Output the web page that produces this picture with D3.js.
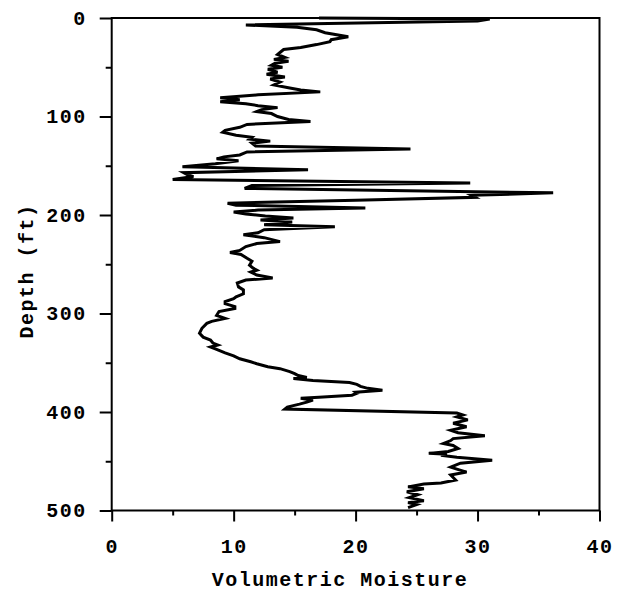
<!DOCTYPE html>
<html><head><meta charset="utf-8">
<script src="https://cdn.jsdelivr.net/npm/d3@7"></script>
<style>
html,body{margin:0;padding:0;background:#fff;}
text{font-family:"Liberation Mono","Courier New",monospace;font-weight:bold;fill:#000;}
</style></head>
<body>
<svg id="chart" width="618" height="592"></svg>
<script>
const depth = [0,1,3,7,9.5,12,15,19,22,24,27,30,32,35,37,40,42,44,46,48,50,52,55,57,60,62,65,68,71,73,75,78,81,83,85,87,89,91,93,95,97,100,103,105,108,111,114,116,119,121,123,125,127,130,133,136,139,141,143,145,148,151,154,157,159,161,164,167.5,170,173,177.5,180,182,185,188,190,193,195,197,199,201,203,205,207,210,212,215,218,220,223,227,229,232,236,238,240,244,247,251,254,256,258,261,264,266,269,273,276,280,283,285,288,290,293,295,298,302,305,308,310,315,320,324,327,330,332,334,336,338,340,343,346,349,351,354,356,359,361,363,365,366,368,370,372,374,376,378,380,381,383,385,386,388,390,392,395,397,401,403,405,408,411.5,415,418.5,421,424,427,429,432,434,437,440,442,443,444,446,449,452,456,458,461,464,469,472,473,476,478,481,484,487,490,492,494,497];
const moisture = [17,31,30,11,15.2,16.8,17.5,19.4,18,17.9,16.8,15.5,14.1,13.8,13.6,14.2,13.3,14.5,13.4,13.1,14,12.8,13.6,12.7,14.2,13,13.8,13.3,14.6,15.5,17.1,12,8.9,10.5,8.9,11,12,13.6,12.3,11.9,13.1,13.6,14.5,16.3,11.1,10.5,9.3,9.1,10.2,11.5,11.3,13,11.5,11.8,24.5,11.1,10.5,9.2,8.6,10.4,8.5,5.8,16.1,5.9,6.2,6.7,5,29.4,11.5,10.9,36.2,29.5,29.8,20,9.5,10.2,20.8,12,10,11,12.6,14.9,12.2,14.8,12.5,18.3,12.5,12,10.8,12.5,13.8,11.9,11,10.5,9.7,10.6,11.1,11.5,11.3,11.6,11.9,11.4,11.9,13.2,11,10.3,10.4,10.8,10.8,10.2,10,9.3,9.3,10.1,10.1,8.8,8.6,9.3,8.2,7.8,7.4,7.2,7.5,8.1,8.3,8.7,8.1,8.5,8.9,9.3,10,10.5,11.4,11.9,12.8,13.8,14.6,15,15.3,16,14.9,16.5,19.5,20.1,20.4,21,22.2,20,20.1,19.7,17,15.5,16.5,16,15.4,14.4,14.2,28.3,28.8,28.3,29.2,28,29.1,27.8,28.4,30.6,28,27.8,27.2,28,28.4,27.6,26,27.5,27,28.3,31.2,28.6,27.8,28.3,29.1,27.8,28.2,27,25.6,24.3,25.6,24.2,25.1,24.4,25.6,24.3,25,24.3];
const xMajor = [0,10,20,30,40];
const xMinor = [5,15,25,35];
const yMajor = [0,100,200,300,400,500];
const yMinor = [50,150,250,350,450];
const xTitle = "Volumetric Moisture";
const yTitle = "Depth (ft)";

const svg = d3.select("#chart");
const x = d3.scaleLinear().domain([0,40]).range([111.7,599.5]);
const y = d3.scaleLinear().domain([0,500]).range([18,510.5]);

// frame
svg.append("rect").attr("x",x(0)).attr("y",y(0)).attr("width",x(40)-x(0)).attr("height",y(500)-y(0))
  .attr("fill","none").attr("stroke","#000").attr("stroke-width",2);

const fs = "20px";
const ls = "1.5px";
const gx = svg.append("g").attr("transform",`translate(0,${y(500)})`)
  .call(d3.axisBottom(x).tickValues(xMajor).tickSize(11).tickPadding(17.5).tickFormat(d3.format("d")));
const gxm = svg.append("g").attr("transform",`translate(0,${y(500)})`)
  .call(d3.axisBottom(x).tickValues(xMinor).tickSize(5).tickFormat(""));
const gy = svg.append("g").attr("transform",`translate(${x(0)},0)`)
  .call(d3.axisLeft(y).tickValues(yMajor).tickSize(12).tickPadding(13).tickFormat(d3.format("d")));
const gym = svg.append("g").attr("transform",`translate(${x(0)},0)`)
  .call(d3.axisLeft(y).tickValues(yMinor).tickSize(6).tickFormat(""));
[gx,gxm,gy,gym].forEach(g=>{
  g.select(".domain").remove();
  g.selectAll("line").attr("stroke","#000").attr("stroke-width",2);
  g.selectAll("text").style("font-size",fs).style("letter-spacing",ls).attr("fill","#000");
});

svg.append("text").attr("x",340).attr("y",586).attr("text-anchor","middle").style("font-size",fs)
  .style("letter-spacing",ls).text(xTitle);
svg.append("text").attr("transform",`translate(33,271) rotate(-90)`).attr("text-anchor","middle").style("font-size",fs)
  .style("letter-spacing",ls).text(yTitle);

const data = depth.map((d,i)=>({d, m: moisture[i]}));
svg.append("path").datum(data)
  .attr("d", d3.line().x(p=>x(p.m)).y(p=>y(p.d)))
  .attr("fill","none").attr("stroke","#000").attr("stroke-width",3).attr("stroke-linejoin","miter").attr("stroke-miterlimit",4);
</script>
</body></html>
